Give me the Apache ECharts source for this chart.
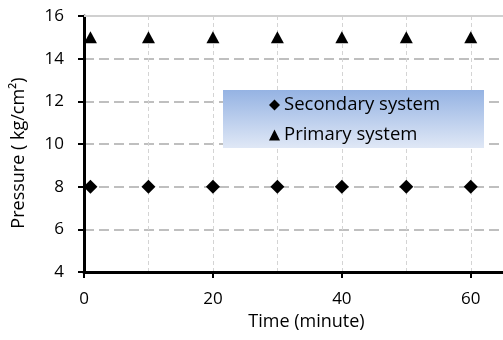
<!DOCTYPE html>
<html>
<head>
<meta charset="utf-8">
<script src="https://cdn.jsdelivr.net/npm/echarts@6/dist/echarts.min.js"></script>
<style>
  html, body { margin: 0; padding: 0; background: #fff; }
  #chart { width: 503px; height: 340px; }
</style>
</head>
<body>
<div id="chart"></div>
<script>
  // time points (minute) and pressures
  var timeMin = [1, 10, 20, 30, 40, 50, 60];
  var secondaryPressure = [8, 8, 8, 8, 8, 8, 8];
  var primaryPressure = [15, 15, 15, 15, 15, 15, 15];
  var seriesNames = ['Secondary system', 'Primary system'];

  function pairs(xs, ys) {
    var out = [];
    for (var i = 0; i < xs.length; i++) out.push([xs[i], ys[i]]);
    return out;
  }

  var font = '"Open Sans", sans-serif';
  var chart = echarts.init(document.getElementById('chart'));
  chart.setOption({
    animation: false,
    textStyle: { fontFamily: font, color: '#000' },
    grid: { left: 84, right: -4, top: 16, bottom: 68 },
    graphic: [{
      type: 'rect',
      z: 3,
      shape: { x: 223, y: 90, width: 261, height: 58 },
      style: {
        fill: new echarts.graphic.LinearGradient(0, 0, 0, 1, [
          { offset: 0, color: '#95b3e3' },
          { offset: 1, color: '#e0e8f6' }
        ])
      }
    }],
    legend: {
      orient: 'vertical',
      left: 269,
      top: 95,
      padding: 0,
      itemWidth: 11,
      itemHeight: 11,
      itemGap: 10,
      data: seriesNames,
      textStyle: { fontFamily: font, fontSize: 18.5, color: '#000', lineHeight: 20, padding: [0, 0, 0, -1] }
    },
    xAxis: [{
      type: 'value',
      position: 'bottom',
      min: 0, max: 65, interval: 20,
      name: 'Time (minute)',
      nameLocation: 'middle',
      nameGap: 37,
      nameTextStyle: { fontFamily: font, fontSize: 18, color: '#000', padding: [0, 0, 0, 26] },
      axisLine: { lineStyle: { color: '#000', width: 3 } },
      axisTick: { show: true, inside: false, length: 6, lineStyle: { color: '#000', width: 2 } },
      axisLabel: { fontSize: 17, color: '#000', margin: 19, showMaxLabel: false,
        formatter: function (v) { return v % 20 === 0 ? v : ''; } },
      splitLine: { show: false }
    }, {
      type: 'value',
      position: 'top',
      min: 0, max: 65, interval: 10,
      axisLine: { show: true, lineStyle: { color: '#d0d0d0', width: 2 } },
      axisTick: { show: false },
      axisLabel: { show: false },
      splitLine: { show: true, lineStyle: { color: '#d4d4d4', width: 1, type: [4, 3] } }
    }],
    yAxis: {
      type: 'value',
      min: 4, max: 16, interval: 2,
      name: 'Pressure ( kg/cm\u00b2)',
      nameLocation: 'middle',
      nameGap: 56,
      nameTextStyle: { fontFamily: font, fontSize: 18, color: '#000', padding: [0, 18, 0, 0] },
      axisLine: { show: true, lineStyle: { color: '#000', width: 3 } },
      axisTick: { show: true, inside: false, length: 6, lineStyle: { color: '#000', width: 2 } },
      axisLabel: { fontSize: 17, color: '#000', margin: 20 },
      splitLine: { show: true, lineStyle: { color: '#bfbfbf', width: 2, type: [10, 5] } }
    },
    series: [{
      name: seriesNames[0],
      type: 'scatter',
      symbol: 'diamond',
      symbolSize: [14, 14],
      itemStyle: { color: '#000', opacity: 1 },
      data: pairs(timeMin, secondaryPressure)
    }, {
      name: seriesNames[1],
      type: 'scatter',
      symbol: 'triangle',
      symbolSize: [13, 12],
      itemStyle: { color: '#000', opacity: 1 },
      data: pairs(timeMin, primaryPressure)
    }]
  });
</script>
</body>
</html>
